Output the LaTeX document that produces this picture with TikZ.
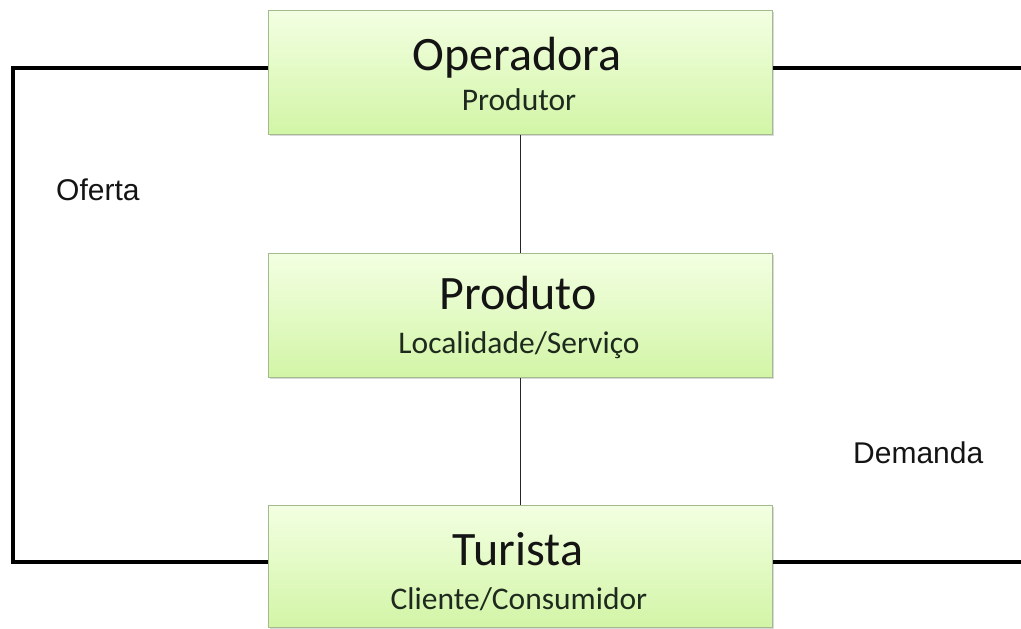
\documentclass[tikz,border=0pt]{standalone}
\usepackage{fontspec}
\setmainfont{Carlito}
\newfontfamily\arialf{Liberation Sans}
\usetikzlibrary{shadows}
\definecolor{boxtop}{HTML}{F3FFE2}
\definecolor{boxbot}{HTML}{D2F5A6}
\definecolor{boxline}{HTML}{A2BA8E}
\definecolor{txt}{HTML}{141414}
\definecolor{subtxt}{HTML}{1E2A1E}
\tikzset{
  gbox/.style={draw=boxline, line width=1.2pt, top color=boxtop, bottom color=boxbot,
    minimum width=504pt, minimum height=124pt, inner sep=0pt, anchor=north west,
    drop shadow={shadow xshift=1.5pt, shadow yshift=-1.5pt, opacity=0.25, fill=black!60}},
  ttl/.style={font=\fontsize{48}{50}\selectfont, text=txt, anchor=base, inner sep=0pt},
  sub/.style={font=\fontsize{31.5}{33}\selectfont, text=subtxt, anchor=base, inner sep=0pt},
  lbl/.style={font=\arialf\fontsize{30}{32}\selectfont, text=txt, anchor=base west, inner sep=0pt},
  conn/.style={line width=3.2pt, black},
  thin/.style={line width=1.2pt, black!85}
}
\begin{document}
\begin{tikzpicture}[x=1pt,y=-1pt]
\useasboundingbox (0,0) rectangle (1021,629);
\coordinate (LT) at (13,68);
\coordinate (LB) at (13,562);
\coordinate (RT) at (1021,68);
\coordinate (RB) at (1021,562);
\node[gbox] (op) at (268,10) {};
\node[gbox] (pr) at (268,253) {};
\node[gbox, minimum height=122pt] (tu) at (268,505) {};
\draw[conn] (op.west |- LT) -- (LT) -- (LB) -- (tu.west |- LB);
\draw[conn] (op.east |- RT) -- (RT);
\draw[conn] (tu.east |- RB) -- (RB);
\draw[thin] (op.south) -- (pr.north);
\draw[thin] (pr.south) -- (tu.north);
\node[ttl] (opt) at (517,70) {Operadora};
\node[sub] (ops) at (519,110) {Produtor};
\node[ttl] (prt) at (518,309) {Produto};
\node[sub] (prs) at (519,353) {Localidade/Serviço};
\node[ttl] (tut) at (518,565) {Turista};
\node[sub] (tus) at (519,609) {Cliente/Consumidor};
\node[lbl] (of) at (56,200) {Oferta};
\node[lbl] (de) at (853,463) {Demanda};
\end{tikzpicture}
\end{document}
